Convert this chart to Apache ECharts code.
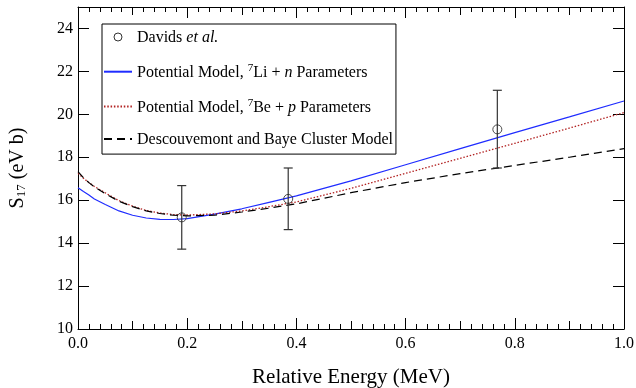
<!DOCTYPE html>
<html>
<head>
<meta charset="utf-8">
<script src="https://cdn.jsdelivr.net/npm/echarts@6/dist/echarts.min.js"></script>
<style>
html,body{margin:0;padding:0;background:#fff;}
#chart{width:636px;height:388px;}
</style>
</head>
<body>
<div id="chart"></div>
<script>
// ---- data ----
const energies = [0, 0.01, 0.02, 0.03, 0.05, 0.075, 0.1, 0.125, 0.15, 0.175, 0.2, 0.25, 0.3, 0.35, 0.4, 0.5, 0.6, 0.7, 0.8, 0.9, 1.0];
const liN = [16.58, 16.40, 16.24, 16.06, 15.80, 15.50, 15.30, 15.17, 15.11, 15.10, 15.14, 15.35, 15.60, 15.90, 16.20, 16.90, 17.65, 18.40, 19.15, 19.88, 20.62];
const beP = [17.25, 17.02, 16.82, 16.64, 16.34, 15.98, 15.72, 15.52, 15.40, 15.33, 15.31, 15.36, 15.50, 15.70, 15.92, 16.55, 17.25, 17.95, 18.65, 19.36, 20.08];
const cluster = [17.33, 17.05, 16.82, 16.62, 16.30, 15.95, 15.70, 15.50, 15.38, 15.30, 15.27, 15.30, 15.45, 15.63, 15.83, 16.35, 16.82, 17.24, 17.62, 18.00, 18.40];

const davidsE = [0.19, 0.385, 0.768];
const davidsS = [15.2, 16.06, 19.3];
const davidsLow = [13.72, 14.63, 17.5];
const davidsHigh = [16.68, 17.5, 21.12];

const seriesNames = ['Davids et al.', 'Potential Model, 7Li + n Parameters', 'Potential Model, 7Be + p Parameters', 'Descouvemont and Baye Cluster Model'];
const legendRich = {
  'Davids et al.': '{r|Davids }{i|et al.}',
  'Potential Model, 7Li + n Parameters': '{r|Potential Model, }{sup|7}{r|Li + }{i|n}{r| Parameters}',
  'Potential Model, 7Be + p Parameters': '{r|Potential Model, }{sup|7}{r|Be + }{i|p}{r| Parameters}',
  'Descouvemont and Baye Cluster Model': '{r|Descouvemont and Baye Cluster Model}'
};

const FONT = '"Liberation Serif", "Times New Roman", serif';
const pair = (xs, ys) => xs.map((x, i) => [x, ys[i]]);

const chart = echarts.init(document.getElementById('chart'), null, {renderer: 'canvas'});

const tickRich = {t: {fontFamily: FONT, fontSize: 16, color: '#000'}};

function xAxisCfg(pos, interval, len, labels, line, minor) {
  return {
    type: 'value', position: pos, min: 0, max: 1, interval: interval,
    axisLine: {show: line, onZero: false, lineStyle: {color: '#000', width: 1}},
    axisTick: {show: true, inside: true, length: len, lineStyle: {color: '#000', width: 1}},
    minorTick: {show: minor, splitNumber: 10, length: 5, lineStyle: {color: '#000', width: 1}},
    axisLabel: {show: labels, margin: 7, color: '#000', fontFamily: FONT, fontSize: 16,
      formatter: v => '{t|' + v.toFixed(1) + '}', rich: tickRich},
    splitLine: {show: false}
  };
}

const option = {
  animation: false,
  backgroundColor: '#fff',
  textStyle: {fontFamily: FONT},
  grid: {left: 78, right: 12, top: 7, bottom: 59, containLabel: false, outerBoundsMode: 'none'},
  xAxis: [
    Object.assign(xAxisCfg('bottom', 0.2, 11, true, true, true), {
      name: '{n|Relative Energy (MeV)}', nameLocation: 'middle', nameGap: 38,
      nameTextStyle: {fontFamily: FONT, fontSize: 21, color: '#000',
        rich: {n: {fontFamily: FONT, fontSize: 21, color: '#000'}}}
    }),
    xAxisCfg('bottom', 0.1, 8, false, false, false),
    xAxisCfg('top', 0.2, 11, false, true, true),
    xAxisCfg('top', 0.1, 8, false, false, false)
  ],
  yAxis: [
    {
      type: 'value', position: 'left', min: 10, max: 25, interval: 2,
      axisLine: {show: true, onZero: false, lineStyle: {color: '#000', width: 1}},
      axisTick: {show: true, inside: true, length: 11, lineStyle: {color: '#000'}},
      axisLabel: {margin: 5, color: '#000', fontFamily: FONT, fontSize: 16, showMaxLabel: false,
        formatter: v => '{t|' + v + '}', rich: tickRich},
      splitLine: {show: false},
      name: '{m|S}{sub|17}{m| (eV b)}', nameLocation: 'middle', nameGap: 50,
      nameTextStyle: {
        fontFamily: FONT, fontSize: 20, color: '#000',
        rich: {
          m: {fontFamily: FONT, fontSize: 20, color: '#000', lineHeight: 20, verticalAlign: 'top'},
          sub: {fontFamily: FONT, fontSize: 13, color: '#000', verticalAlign: 'bottom', lineHeight: 13}
        }
      }
    },
    {
      type: 'value', position: 'right', min: 10, max: 25, interval: 2,
      axisLine: {show: true, onZero: false, lineStyle: {color: '#000', width: 1}},
      axisTick: {show: true, inside: true, length: 11, lineStyle: {color: '#000'}},
      axisLabel: {show: false},
      splitLine: {show: false}
    }
  ],
  legend: {
    orient: 'vertical', left: 102, top: 24,
    data: [
      {name: seriesNames[0], icon: 'circle', itemStyle: {color: '#fff', borderColor: '#000', borderWidth: 1}},
      {name: seriesNames[1], itemStyle: {opacity: 0}},
      {name: seriesNames[2], itemStyle: {opacity: 0}},
      {name: seriesNames[3], itemStyle: {opacity: 0}}
    ],
    borderColor: '#000', borderWidth: 1, borderRadius: 0,
    padding: [6, 3, 6, 1],
    itemWidth: 28, itemHeight: 8, itemGap: 16.7,
    formatter: name => legendRich[name],
    textStyle: {
      fontFamily: FONT, fontSize: 16, color: '#000',
      rich: {
        r: {fontFamily: FONT, fontSize: 16, color: '#000', lineHeight: 18, verticalAlign: 'bottom'},
        i: {fontFamily: FONT, fontSize: 16, color: '#000', fontStyle: 'italic', lineHeight: 18, verticalAlign: 'bottom'},
        sup: {fontFamily: FONT, fontSize: 11, color: '#000', lineHeight: 11, verticalAlign: 'top'}
      }
    }
  },
  series: [
    {
      name: seriesNames[1], type: 'line', xAxisIndex: 0, yAxisIndex: 0,
      data: pair(energies, liN), symbol: 'none', smooth: false,
      lineStyle: {color: '#1f2cff', width: 1.2, type: 'solid'}, itemStyle: {color: '#1f2cff'}, z: 3
    },
    {
      name: seriesNames[2], type: 'line', xAxisIndex: 0, yAxisIndex: 0,
      data: pair(energies, beP), symbol: 'none', smooth: false,
      lineStyle: {color: '#b22222', width: 1.3, type: [1.5, 1.8]}, itemStyle: {color: '#b22222'}, z: 3
    },
    {
      name: seriesNames[3], type: 'line', xAxisIndex: 0, yAxisIndex: 0,
      data: pair(energies, cluster), symbol: 'none', smooth: false,
      lineStyle: {color: '#000', width: 1.2, type: [8, 5]}, itemStyle: {color: '#000'}, z: 3
    },
    {
      name: 'errors', type: 'custom', xAxisIndex: 0, yAxisIndex: 0, z: 4,
      data: davidsE.map((x, i) => [x, davidsLow[i], davidsHigh[i]]),
      renderItem: function (params, api) {
        const lo = api.coord([api.value(0), api.value(1)]);
        const hi = api.coord([api.value(0), api.value(2)]);
        const w = 4.5;
        const st = {stroke: '#333', lineWidth: 1.2};
        return {
          type: 'group',
          children: [
            {type: 'line', shape: {x1: lo[0], y1: lo[1], x2: hi[0], y2: hi[1]}, style: st},
            {type: 'line', shape: {x1: lo[0] - w, y1: lo[1], x2: lo[0] + w, y2: lo[1]}, style: st},
            {type: 'line', shape: {x1: hi[0] - w, y1: hi[1], x2: hi[0] + w, y2: hi[1]}, style: st}
          ]
        };
      }
    },
    {
      name: seriesNames[0], type: 'scatter', xAxisIndex: 0, yAxisIndex: 0, z: 5,
      data: pair(davidsE, davidsS), symbol: 'circle', symbolSize: 9,
      itemStyle: {color: 'rgba(255,255,255,0)', borderColor: '#222', borderWidth: 1}
    }
  ]
};
chart.setOption(option);
</script>
</body>
</html>
